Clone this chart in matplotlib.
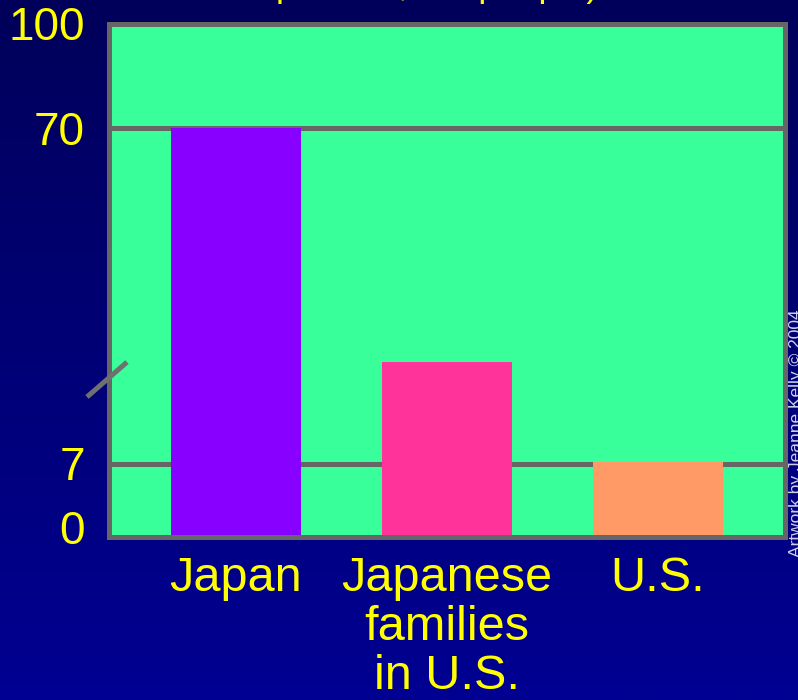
import numpy as np
import matplotlib
matplotlib.use("Agg")
import matplotlib.pyplot as plt
import matplotlib.transforms as mtransforms
from matplotlib.colors import LinearSegmentedColormap

# ---- data ----
categories = ["Japan", "Japanese\nfamilies\nin U.S.", "U.S."]
values = [70, 26, 7.2]
bar_colors = ["#8800FF", "#FF3399", "#FF9966"]
ytick_values = [0, 7, 70, 100]
ytick_labels = ["0", "7", "70", "100"]
grid_values = [7, 70]
title_fragment = "per 100,000 people)"
credit = "Artwork by Jeanne Kelly \u00a9 2004"

# ---- broken (piecewise) y scale ----
knots_val = [0, 7, 70, 100]
knots_pos = [0, 73, 408.5, 513]

def fwd(v):
    return np.interp(v, knots_val, knots_pos)

def inv(p):
    return np.interp(p, knots_pos, knots_val)

plt.rcParams['font.family'] = ['Liberation Sans', 'DejaVu Sans']

W, H = 798, 700
fig = plt.figure(figsize=(W / 100, H / 100), dpi=100)

# gradient background
bg = fig.add_axes([0, 0, 1, 1], zorder=-10)
cmap = LinearSegmentedColormap.from_list("bgc", ["#00005A", "#000092"])
grad = np.linspace(0, 1, 256).reshape(-1, 1)
bg.imshow(grad, aspect="auto", cmap=cmap, extent=[0, 1, 0, 1], origin="upper")
bg.set_axis_off()

ax = fig.add_axes([108.5 / W, (H - 536.5) / H, 676 / W, 513 / H])
ax.set_facecolor("#38FF99")
ax.set_yscale("function", functions=(fwd, inv))
ax.set_ylim(0, 100)

x = np.arange(len(categories))
ax.bar(x, values, width=0.62, color=bar_colors, zorder=2, edgecolor="none")
for g in grid_values:
    ax.axhline(g, color="#666666", lw=3.6, zorder=1)
ax.set_xlim(-0.604, 2.6)

for s in ax.spines.values():
    s.set_color("#666666")
    s.set_linewidth(3.6)
    s.set_zorder(3)

ax.set_yticks(ytick_values)
ax.set_yticklabels(ytick_labels)
ax.set_xticks(x)
ax.set_xticklabels(categories, linespacing=1.12)
ax.tick_params(axis="y", length=0, pad=17, labelsize=33, labelcolor="#FFFF00")
ax.tick_params(axis="x", length=0, pad=14, labelsize=35, labelcolor="#FFFF00")
ax.minorticks_off()

# nudge "0" label up slightly
lbl0 = ax.get_yticklabels()[0]
lbl0.set_transform(lbl0.get_transform() + mtransforms.ScaledTranslation(0, 9 / 100, fig.dpi_scale_trans))

# axis-break mark
ax.plot([-0.0318, 0.0274], [0.272, 0.340], transform=ax.transAxes, color="#707070",
        lw=3.6, clip_on=False, zorder=4, solid_capstyle="butt")

# cropped title line (only descenders visible)
fig.text(276 / W, 1 + 4.5 / H, title_fragment, color="#FFFF00", fontsize=26,
         ha="left", va="baseline")

# credit on right edge
fig.text(789 / W, 1 - 433 / H, credit, rotation=90, color="#D0D0E8", fontsize=12.5,
         ha="left", va="center")

fig.savefig("out.png", dpi=100, facecolor="#000070")
